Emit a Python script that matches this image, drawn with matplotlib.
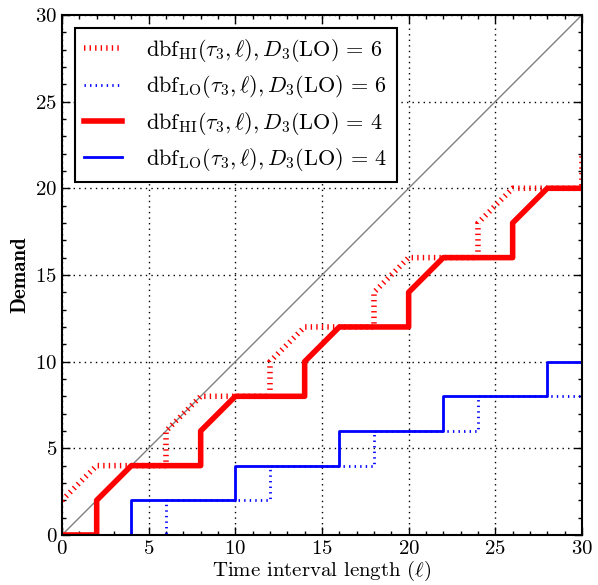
import matplotlib
matplotlib.use('Agg')
import matplotlib.pyplot as plt
from matplotlib.ticker import MultipleLocator

plt.rcParams['font.family'] = 'cmr10'
plt.rcParams['mathtext.fontset'] = 'cm'
plt.rcParams['axes.formatter.use_mathtext'] = True
plt.rcParams['lines.scale_dashes'] = False

# dbf_HI, D3(LO) = 6 (dotted red)
hi6_x = [0, 2, 6, 6, 8, 12, 12, 14, 18, 18, 20, 24, 24, 26, 30, 30]
hi6_y = [2, 4, 4, 6, 8, 8, 10, 12, 12, 14, 16, 16, 18, 20, 20, 22]

# dbf_LO, D3(LO) = 6 (dotted blue)
lo6_x = [0, 6, 6, 12, 12, 18, 18, 24, 24, 30, 30]
lo6_y = [0, 0, 2, 2, 4, 4, 6, 6, 8, 8, 10]

# dbf_HI, D3(LO) = 4 (solid red)
hi4_x = [0, 2, 2, 4, 8, 8, 10, 14, 14, 16, 20, 20, 22, 26, 26, 28, 30]
hi4_y = [0, 0, 2, 4, 4, 6, 8, 8, 10, 12, 12, 14, 16, 16, 18, 20, 20]

# dbf_LO, D3(LO) = 4 (solid blue)
lo4_x = [0, 4, 4, 10, 10, 16, 16, 22, 22, 28, 28, 30]
lo4_y = [0, 0, 2, 2, 4, 4, 6, 6, 8, 8, 10, 10]

labels = [
    r'$\mathrm{dbf}_{\mathrm{HI}}(\tau_3,\ell), D_3(\mathrm{LO})\,=\,6$',
    r'$\mathrm{dbf}_{\mathrm{LO}}(\tau_3,\ell), D_3(\mathrm{LO})\,=\,6$',
    r'$\mathrm{dbf}_{\mathrm{HI}}(\tau_3,\ell), D_3(\mathrm{LO})\,=\,4$',
    r'$\mathrm{dbf}_{\mathrm{LO}}(\tau_3,\ell), D_3(\mathrm{LO})\,=\,4$',
]

dots = (0, (1, 3))

fig = plt.figure(figsize=(5.98, 5.85), dpi=100)
ax = fig.add_axes([0.1037, 0.0855, 0.8695, 0.889])

ax.plot([0, 30], [0, 30], color='gray', lw=1)
ax.plot(hi6_x, hi6_y, color='red', lw=4, ls=dots, label=labels[0])
ax.plot(lo6_x, lo6_y, color='blue', lw=2, ls=dots, label=labels[1])
ax.plot(hi4_x, hi4_y, color='red', lw=4, label=labels[2])
ax.plot(lo4_x, lo4_y, color='blue', lw=2, label=labels[3])

ax.set_xlim(0, 30)
ax.set_ylim(0, 30)
ax.xaxis.set_major_locator(MultipleLocator(5))
ax.yaxis.set_major_locator(MultipleLocator(5))
ax.xaxis.set_minor_locator(MultipleLocator(1))
ax.yaxis.set_minor_locator(MultipleLocator(1))
ax.tick_params(which='both', direction='in', top=True, right=True, labelsize=15)
ax.tick_params(which='major', length=6, width=1)
ax.tick_params(which='minor', length=3, width=1)
ax.grid(True, which='major', color='black', ls=dots, lw=1)
for s in ax.spines.values():
    s.set_linewidth(1.5)

ax.set_xlabel(r'Time interval length ($\ell$)', fontsize=15, labelpad=1)
ax.set_ylabel('Demand', fontsize=15, family='cmb10', labelpad=4)

leg = ax.legend(loc='upper left', fontsize=16, fancybox=False, framealpha=1,
                edgecolor='black', borderaxespad=0.6, handlelength=1.7,
                handletextpad=1.1, labelspacing=0.42)
leg.get_frame().set_linewidth(1.5)

fig.savefig('out.png', dpi=100)
